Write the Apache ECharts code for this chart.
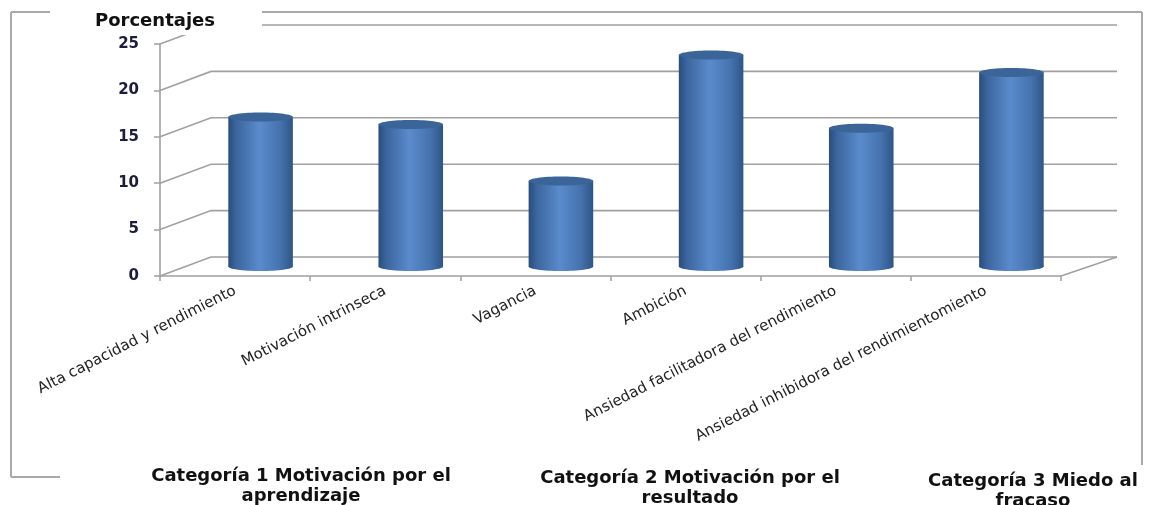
<!DOCTYPE html>
<html>
<head>
<meta charset="utf-8">
<script src="https://cdn.jsdelivr.net/npm/echarts@6/dist/echarts.min.js"></script>
<style>
html,body{margin:0;padding:0;background:#fff;}
#chart{width:1157px;height:505px;}
</style>
</head>
<body>
<div id="chart"></div>
<script>
// ---- data ----
const categories = [
  'Alta capacidad y rendimiento',
  'Motivación intrinseca',
  'Vagancia',
  'Ambición',
  'Ansiedad facilitadora del rendimiento',
  'Ansiedad inhibidora del rendimientomiento'
];
const values = [16.1, 15.3, 9.2, 22.8, 14.9, 20.9];
const yTicks = [0, 5, 10, 15, 20, 25];
const axisTitle = 'Porcentajes';
const groupLabels = [
  'Categoría 1 Motivación por el\naprendizaje',
  'Categoría 2 Motivación por el\nresultado',
  'Categoría 3 Miedo al\nfracaso'
];

// ---- style constants ----
const DX = 51, DXR = 56, DY = -19;   // depth offset of the back wall (left / right edge)
const GRID = '#a0a0a0';

const chart = echarts.init(document.getElementById('chart'));

function renderWall(params, api) {
  const v = api.value(1);
  const cs = params.coordSys;
  const y = api.coord([0, v])[1];
  const x0 = cs.x, x1 = cs.x + cs.width;
  const ls = {stroke: GRID, lineWidth: 1.6, fill: null};
  const children = [
    {type: 'polyline', shape: {points: [[x0, y], [x0 + DX, y + DY], [x1 + DXR, y + DY]]}, style: ls}
  ];
  if (v === 0) {
    children.push({type: 'line', shape: {x1: x1, y1: y, x2: x1 + DXR, y2: y + DY}, style: ls});
  }
  return {type: 'group', children: children};
}

function renderBar(params, api) {
  const i = api.value(0), v = api.value(1);
  const top = api.coord([i, v]), base = api.coord([i, 0]);
  const bw = api.size([1, 0])[0] * 0.43;
  const cx = top[0] + DX / 2;
  const ty = top[1] + DY / 2, by = base[1] + DY / 2;
  const rx = bw / 2, ry = 4.5;
  const grad = () => new echarts.graphic.LinearGradient(0, 0, 1, 0, [
    {offset: 0, color: '#2a4c7b'},
    {offset: 0.12, color: '#3b659d'},
    {offset: 0.48, color: '#5a8bcc'},
    {offset: 0.8, color: '#4673af'},
    {offset: 1, color: '#2e5586'}
  ]);
  return {
    type: 'group',
    children: [
      {type: 'ellipse', shape: {cx: cx, cy: by, rx: rx, ry: ry}, style: {fill: grad()}},
      {type: 'rect', shape: {x: cx - rx, y: ty, width: bw, height: by - ty}, style: {fill: grad()}},
      {type: 'ellipse', shape: {cx: cx, cy: ty, rx: rx, ry: ry}, style: {fill: '#3b6498'}}
    ]
  };
}

const frameStyle = {stroke: '#a9a9a9', lineWidth: 2};
const groupFont = {fontFamily: 'DejaVu Sans', fontWeight: 'bold', fontSize: 18,
  lineHeight: 20, fill: '#111', align: 'center', verticalAlign: 'top'};

chart.setOption({
  animation: false,
  grid: {left: 160, right: 96, top: 44, bottom: 229},
  xAxis: {
    type: 'category',
    data: categories,
    axisLine: {lineStyle: {color: GRID, width: 1.6}},
    axisTick: {show: true, length: 5, lineStyle: {color: GRID, width: 1.5}},
    axisLabel: {
      interval: 0, rotate: 27, margin: 14,
      fontFamily: 'DejaVu Sans', fontSize: 15, color: '#222'
    }
  },
  yAxis: {
    type: 'value', min: 0, max: 25, interval: 5,
    axisLine: {show: true, lineStyle: {color: GRID, width: 1.6}},
    axisTick: {show: true, length: 6, lineStyle: {color: GRID, width: 1.5}},
    splitLine: {show: false},
    axisLabel: {
      margin: 21, fontFamily: 'DejaVu Sans', fontWeight: 'bold',
      fontSize: 15, color: '#1c1c3c'
    }
  },
  series: [
    {
      type: 'custom', z: 1, silent: true,
      renderItem: renderWall,
      data: yTicks.map(v => [0, v])
    },
    {
      type: 'custom', z: 3,
      renderItem: renderBar,
      data: values.map((v, i) => [i, v])
    }
  ],
  graphic: [
    {type: 'line', z: 60, shape: {x1: 11, y1: 12, x2: 11, y2: 477}, style: frameStyle},
    {type: 'line', z: 60, shape: {x1: 11, y1: 12, x2: 50, y2: 12}, style: frameStyle},
    {type: 'line', z: 60, shape: {x1: 262, y1: 12, x2: 1142, y2: 12}, style: frameStyle},
    {type: 'line', z: 60, shape: {x1: 1142, y1: 12, x2: 1142, y2: 465}, style: frameStyle},
    {type: 'line', z: 60, shape: {x1: 11, y1: 477, x2: 60, y2: 477}, style: frameStyle},
    {type: 'rect', z: 50, shape: {x: 50, y: 0, width: 212, height: 35}, style: {fill: '#fff'}},
    {type: 'text', z: 61, x: 155, y: 21,
      style: {text: axisTitle, fontFamily: 'DejaVu Sans', fontWeight: 'bold', fontSize: 18,
        fill: '#111', align: 'center', verticalAlign: 'middle'}},
    {type: 'text', z: 61, x: 301, y: 466, style: Object.assign({text: groupLabels[0]}, groupFont)},
    {type: 'text', z: 61, x: 690, y: 468, style: Object.assign({text: groupLabels[1]}, groupFont)},
    {type: 'text', z: 61, x: 1033, y: 471, style: Object.assign({text: groupLabels[2]}, groupFont)}
  ]
});
</script>
</body>
</html>
